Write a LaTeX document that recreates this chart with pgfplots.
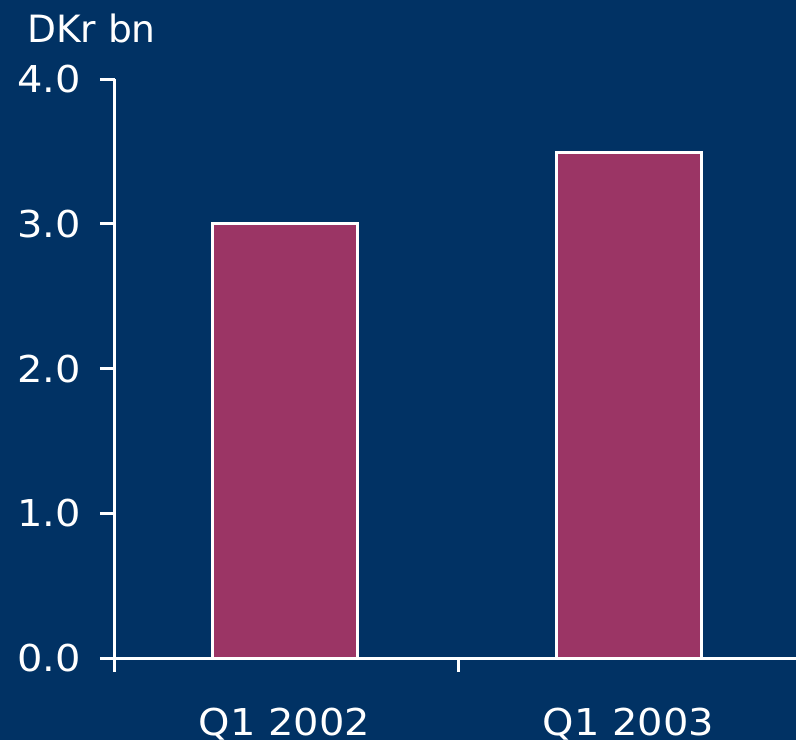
\documentclass[border=0pt]{standalone}
\usepackage{pgfplots}
\pgfplotsset{compat=1.18}
\usepackage{fontspec}
\setmainfont{DejaVu Sans}[FakeStretch=1.08]
\newfontfamily\labfont{DejaVu Sans}[FakeStretch=1.0]
\usetikzlibrary{backgrounds}
\definecolor{navy}{HTML}{013264}
\definecolor{plum}{HTML}{9B3565}
\begin{document}
\begin{tikzpicture}
\begin{axis}[
  x=172pt, y=72.375pt,
  xmin=0, xmax=1.9797, ymin=0, ymax=4,
  axis x line=bottom, axis y line=left,
  axis line style={-, white, line width=1.5pt},
  clip=false,
  ytick={0,1,2,3,4},
  /pgf/number format/fixed,
  /pgf/number format/fixed zerofill,
  /pgf/number format/precision=1,
  /pgf/number format/assume math mode=true,
  yticklabel style={text=white, font=\fontsize{18.5pt}{20pt}\selectfont, xshift=-6pt},
  xtick={0.493,1.493},
  xticklabels={Q1 2002, Q1 2003},
  minor xtick={0,1,2},
  xticklabel style={text=white, font=\fontsize{18.5pt}{20pt}\selectfont, anchor=north, yshift=-14pt},
  major x tick style={draw=none},
  tick style={white, line width=1.5pt},
  major tick length=7.5pt,
  minor tick length=7pt,
  tick align=outside,
  ylabel={DKr bn},
  ylabel style={rotate=-90, text=white, font=\labfont\fontsize{18.8pt}{20pt}\selectfont, at={(axis description cs:0,1)}, anchor=base west, xshift=-47.5pt, yshift=18.5pt},
  ybar, bar width=72.5pt,
]
\addplot[draw=white, line width=1.5pt, fill=plum] coordinates {(0.493,3.0) (1.493,3.49)};
\coordinate (sw) at (axis cs:-0.3343,-0.5665);
\coordinate (ne) at (axis cs:1.9797,4.546);
\end{axis}
\begin{scope}[on background layer]
\fill[navy] (sw) rectangle (ne);
\end{scope}
\pgfresetboundingbox
\path[use as bounding box] (sw) rectangle (ne);
\end{tikzpicture}
\end{document}
